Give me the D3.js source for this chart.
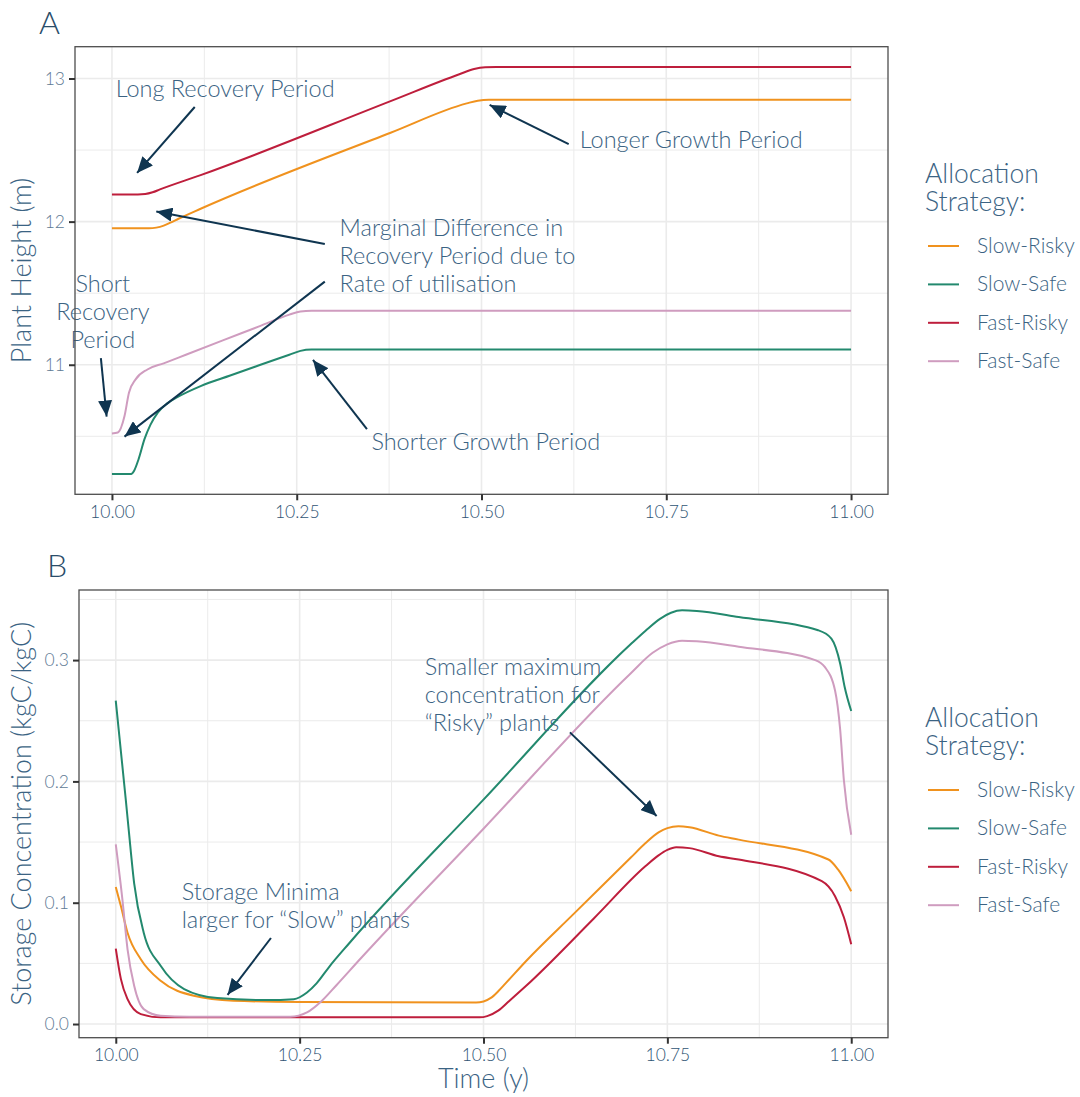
<!DOCTYPE html>
<html>
<head>
<meta charset="utf-8">
<script src="https://cdn.jsdelivr.net/npm/d3@7"></script>
<style>
  body { margin: 0; background: #fff; }
  text { font-family: Lato, "Open Sans", sans-serif; font-weight: 300; }
</style>
</head>
<body>
<svg id="chart" width="1080" height="1097"></svg>
<script>

var strategies = ["Slow-Risky", "Slow-Safe", "Fast-Risky", "Fast-Safe"];
var strategyColours = ["#F0921E", "#23896E", "#BE1E3C", "#CF9CBF"];

var timeTicks = [10, 10.25, 10.5, 10.75, 11];
var timeMinor = [10.125, 10.375, 10.625, 10.875];
var heightTicks = [11, 12, 13];
var heightMinor = [10.5, 11.5, 12.5];
var storageTicks = [0, 0.1, 0.2, 0.3];
var storageMinor = [0.05, 0.15, 0.25, 0.35];

// panel A : plant height (m) against time (y)
var heightSlowRisky = [[10, 11.953], [10.05, 11.953], [10.06, 11.958], [10.07, 11.972], [10.08, 11.995],
  [10.09, 12.02], [10.12, 12.09], [10.377, 12.621], [10.48, 12.826], [10.495, 12.845], [10.51, 12.851], [11, 12.851]];
var heightSlowSafe = [[10, 10.237], [10.026, 10.237], [10.03, 10.26], [10.036, 10.34], [10.044, 10.48],
  [10.052, 10.58], [10.062, 10.666], [10.075, 10.73], [10.089, 10.775], [10.12, 10.851], [10.16, 10.925],
  [10.2, 10.998], [10.24, 11.07], [10.255, 11.097], [10.27, 11.106], [11, 11.106]];
var heightFastRisky = [[10, 12.19], [10.035, 12.19], [10.045, 12.193], [10.055, 12.205], [10.065, 12.225],
  [10.12, 12.325], [10.377, 12.842], [10.47, 13.03], [10.49, 13.066], [10.505, 13.078], [10.52, 13.08], [11, 13.08]];
var heightFastSafe = [[10, 10.52], [10.008, 10.527], [10.017, 10.642], [10.023, 10.805], [10.032, 10.898],
  [10.048, 10.967], [10.07, 11.01], [10.1, 11.07], [10.15, 11.17], [10.2, 11.27], [10.24, 11.35],
  [10.255, 11.372], [10.27, 11.378], [11, 11.378]];

// panel B : storage concentration (kgC/kgC) against time (y)
var storageSlowRisky = [[10, 0.113], [10.007, 0.097], [10.016, 0.0753], [10.034, 0.0534], [10.061, 0.0356],
  [10.106, 0.0233], [10.16, 0.0192], [10.25, 0.0182], [10.49, 0.0178], [10.5, 0.0186], [10.51, 0.0215],
  [10.52, 0.027], [10.53, 0.0335], [10.558, 0.052], [10.623, 0.091], [10.7, 0.137], [10.72, 0.149],
  [10.738, 0.158], [10.75, 0.1615], [10.765, 0.163], [10.78, 0.1622], [10.82, 0.1553], [10.847, 0.152],
  [10.969, 0.1356], [10.982, 0.1274], [11, 0.1095]];
var storageSlowSafe = [[10, 0.2665], [10.0136, 0.185], [10.018, 0.1575], [10.025, 0.116], [10.038, 0.0753],
  [10.061, 0.048], [10.093, 0.0288], [10.138, 0.0214], [10.206, 0.0197], [10.242, 0.0205], [10.26, 0.026],
  [10.273, 0.0335], [10.29, 0.047], [10.318, 0.067], [10.5, 0.185], [10.7, 0.313], [10.72, 0.324],
  [10.74, 0.334], [10.755, 0.339], [10.77, 0.341], [10.79, 0.3405], [10.847, 0.3355], [10.955, 0.3246],
  [10.973, 0.3177], [10.985, 0.297], [10.991, 0.278], [11, 0.258]];
var storageFastRisky = [[10, 0.0622], [10.007, 0.037], [10.016, 0.0205], [10.034, 0.0082], [10.061, 0.0055],
  [10.495, 0.0055], [10.505, 0.0065], [10.52, 0.011], [10.535, 0.019], [10.558, 0.0315], [10.65, 0.087],
  [10.72, 0.13], [10.738, 0.139], [10.75, 0.1435], [10.762, 0.1457], [10.78, 0.145], [10.82, 0.1383],
  [10.847, 0.1356], [10.96, 0.1178], [10.978, 0.1054], [10.99, 0.088], [11, 0.0657]];
var storageFastSafe = [[10, 0.148], [10.009, 0.1027], [10.016, 0.0616], [10.025, 0.0315], [10.038, 0.0123],
  [10.061, 0.0068], [10.1, 0.006], [10.237, 0.006], [10.26, 0.0096], [10.28, 0.019], [10.3, 0.032],
  [10.332, 0.0534], [10.5, 0.161], [10.7, 0.289], [10.73, 0.306], [10.75, 0.313], [10.77, 0.316],
  [10.79, 0.3155], [10.847, 0.311], [10.951, 0.3], [10.964, 0.2944], [10.978, 0.275], [10.985, 0.2424],
  [10.99, 0.201], [11, 0.156]];

// annotations, in data units: text lines at [t, v], arrows from [t, v] to [t, v]
var heightNotes = [
  { at: [10.005, 12.871], lines: ["Long Recovery Period"], anchor: "start" },
  { at: [10.633, 12.514], lines: ["Longer Growth Period"], anchor: "start" },
  { at: [10.308, 11.9], lines: ["Marginal Difference in", "Recovery Period due to", "Rate of utilisation"], anchor: "start" },
  { at: [9.9876, 11.509], lines: ["Short", "Recovery", "Period"], anchor: "middle" },
  { at: [10.351, 10.401], lines: ["Shorter Growth Period"], anchor: "start" }
];
var heightArrows = [
  [[10.112, 12.801], [10.034, 12.34]],
  [[10.618, 12.542], [10.511, 12.815]],
  [[10.288, 11.844], [10.06, 12.07]],
  [[10.288, 11.581], [10.017, 10.498]],
  [[9.985, 11.046], [9.9928, 10.638]],
  [[10.345, 10.55], [10.272, 11.034]]
];
var storageNotes = [
  { at: [10.42, 0.2877], lines: ["Smaller maximum", "concentration for", "\u201cRisky\u201d plants"], anchor: "start" },
  { at: [10.0896, 0.102], lines: ["Storage Minima", "larger for \u201cSlow\u201d plants"], anchor: "start" }
];
var storageArrows = [
  [[10.6175, 0.2404], [10.7354, 0.1714]],
  [[10.211, 0.0709], [10.152, 0.0241]]
];

var textCol = "#3B6383", tickCol = "#5E7A94", arrowCol = "#0F3550";

var svg = d3.select("#chart");

svg.append("defs").append("marker")
  .attr("id", "head")
  .attr("markerUnits", "userSpaceOnUse")
  .attr("viewBox", "0 0 16 14")
  .attr("refX", 16).attr("refY", 7)
  .attr("markerWidth", 16).attr("markerHeight", 14)
  .attr("orient", "auto")
  .append("path")
  .attr("d", "M0,0 L16,7 L0,14 Z")
  .attr("fill", arrowCol);

function expand(ext) {
  var pad = (ext[1] - ext[0]) * 0.05;
  return [ext[0] - pad, ext[1] + pad];
}

function drawPanel(opt) {
  var g = svg.append("g");
  var allPts = d3.merge(opt.series);

  var x = d3.scaleLinear().domain(expand([10, 11])).range([opt.left, opt.right]);
  var y = d3.scaleLinear().domain(expand(d3.extent(allPts, function(d) { return d[1]; })))
    .range([opt.bottom, opt.top]);

  // grid
  g.selectAll(".minor-x").data(timeMinor).enter().append("line")
    .attr("x1", x).attr("x2", x).attr("y1", opt.top).attr("y2", opt.bottom)
    .attr("stroke", "#ebebeb").attr("stroke-width", 1);
  g.selectAll(".minor-y").data(opt.minor).enter().append("line")
    .attr("x1", opt.left).attr("x2", opt.right).attr("y1", y).attr("y2", y)
    .attr("stroke", "#ebebeb").attr("stroke-width", 1);
  g.selectAll(".major-x").data(timeTicks).enter().append("line")
    .attr("x1", x).attr("x2", x).attr("y1", opt.top).attr("y2", opt.bottom)
    .attr("stroke", "#ebebeb").attr("stroke-width", 1.6);
  g.selectAll(".major-y").data(opt.ticks).enter().append("line")
    .attr("x1", opt.left).attr("x2", opt.right).attr("y1", y).attr("y2", y)
    .attr("stroke", "#ebebeb").attr("stroke-width", 1.6);

  // series
  var line = d3.line()
    .x(function(d) { return x(d[0]); })
    .y(function(d) { return y(d[1]); })
    .curve(d3.curveMonotoneX);

  g.selectAll(".series").data(opt.series).enter().append("path")
    .attr("d", line)
    .attr("fill", "none")
    .attr("stroke", function(d, i) { return strategyColours[i]; })
    .attr("stroke-width", 2);

  // annotations
  opt.arrows.forEach(function(a) {
    g.append("line")
      .attr("x1", x(a[0][0])).attr("y1", y(a[0][1]))
      .attr("x2", x(a[1][0])).attr("y2", y(a[1][1]))
      .attr("stroke", arrowCol).attr("stroke-width", 2)
      .attr("marker-end", "url(#head)");
  });
  opt.notes.forEach(function(n) {
    var t = g.append("text")
      .attr("x", x(n.at[0])).attr("y", y(n.at[1]))
      .attr("text-anchor", n.anchor)
      .attr("fill", textCol)
      .style("font-size", "23.5px");
    n.lines.forEach(function(s, i) {
      t.append("tspan").attr("x", x(n.at[0])).attr("dy", i ? 28 : 0).text(s);
    });
  });

  // border
  g.append("rect")
    .attr("x", opt.left).attr("y", opt.top)
    .attr("width", opt.right - opt.left).attr("height", opt.bottom - opt.top)
    .attr("fill", "none").attr("stroke", "#4d4d4d").attr("stroke-width", 1.3);

  // axes
  var xAxis = g.append("g")
    .attr("transform", "translate(0," + opt.bottom + ")")
    .call(d3.axisBottom(x).tickValues(timeTicks).tickFormat(d3.format(".2f")).tickSize(6).tickPadding(5));
  var yAxis = g.append("g")
    .attr("transform", "translate(" + opt.left + ",0)")
    .call(d3.axisLeft(y).tickValues(opt.ticks).tickFormat(opt.fmt).tickSize(6).tickPadding(4));
  [xAxis, yAxis].forEach(function(ax) {
    ax.select(".domain").remove();
    ax.selectAll(".tick line").attr("stroke", "#333").attr("stroke-width", 2);
    ax.selectAll(".tick text").style("font-size", "17.5px").style("font-family", "Lato, sans-serif");
  });
  xAxis.selectAll(".tick text").attr("fill", "#2F5474");
  yAxis.selectAll(".tick text").attr("fill", tickCol);

  g.append("text")
    .attr("transform", "translate(" + opt.yTitleX + "," + ((opt.top + opt.bottom) / 2) + ") rotate(-90)")
    .attr("text-anchor", "middle")
    .attr("fill", textCol)
    .style("font-size", "27px")
    .text(opt.yTitle);

  if (opt.xTitle) {
    g.append("text")
      .attr("x", (opt.left + opt.right) / 2).attr("y", opt.bottom + 50)
      .attr("text-anchor", "middle")
      .attr("fill", textCol)
      .style("font-size", "27px")
      .text(opt.xTitle);
  }

  // tag
  g.append("text")
    .attr("x", opt.tagX).attr("y", opt.top - 13)
    .attr("fill", "#2A4D6A")
    .style("font-size", "32px")
    .text(opt.tag);

  // legend
  var lg = g.append("g").attr("transform", "translate(925," + opt.legendY + ")");
  lg.append("text").attr("fill", textCol).style("font-size", "26.5px")
    .selectAll("tspan").data(["Allocation", "Strategy:"]).enter().append("tspan")
    .attr("x", 0).attr("y", function(d, i) { return i * 28; })
    .text(function(d) { return d; });
  var items = lg.selectAll(".item").data(strategies).enter().append("g")
    .attr("transform", function(d, i) { return "translate(0," + (63 + i * 38.4) + ")"; });
  items.append("line")
    .attr("x1", 3).attr("x2", 34)
    .attr("stroke", function(d, i) { return strategyColours[i]; })
    .attr("stroke-width", 2);
  items.append("text")
    .attr("x", 52).attr("y", 7)
    .attr("fill", textCol)
    .style("font-size", "21px")
    .text(function(d) { return d; });
}

drawPanel({
  tag: "A", tagX: 39,
  left: 75, right: 888, top: 46.7, bottom: 494.3,
  series: [heightSlowRisky, heightSlowSafe, heightFastRisky, heightFastSafe],
  ticks: heightTicks, minor: heightMinor, fmt: d3.format("d"),
  yTitle: "Plant Height (m)", yTitleX: 31,
  notes: heightNotes, arrows: heightArrows,
  legendY: 183
});

drawPanel({
  tag: "B", tagX: 47,
  left: 79, right: 888, top: 590, bottom: 1037.7,
  series: [storageSlowRisky, storageSlowSafe, storageFastRisky, storageFastSafe],
  ticks: storageTicks, minor: storageMinor, fmt: d3.format(".1f"),
  yTitle: "Storage Concentration (kgC/kgC)", yTitleX: 31,
  xTitle: "Time (y)",
  notes: storageNotes, arrows: storageArrows,
  legendY: 727
});
</script>
</body>
</html>
